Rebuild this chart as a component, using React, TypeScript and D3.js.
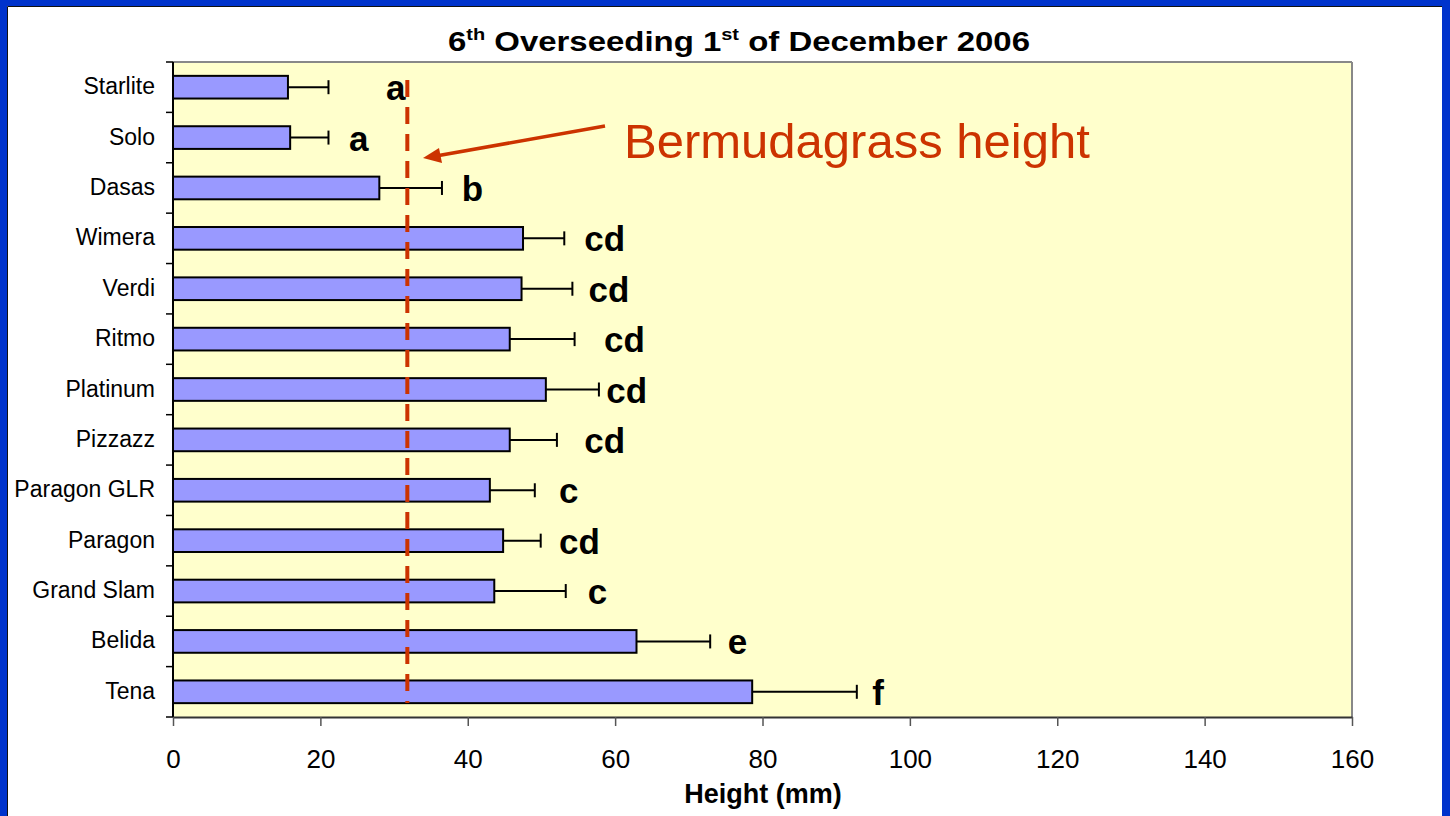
import { useEffect, useRef } from "react";
import * as d3 from "d3";

const categories = [
  "Starlite",
  "Solo",
  "Dasas",
  "Wimera",
  "Verdi",
  "Ritmo",
  "Platinum",
  "Pizzazz",
  "Paragon GLR",
  "Paragon",
  "Grand Slam",
  "Belida",
  "Tena",
];
const heights = [15.6, 15.9, 28.0, 47.5, 47.3, 45.7, 50.6, 45.7, 43.0, 44.8, 43.6, 62.9, 78.6];
const errors = [5.5, 5.2, 8.5, 5.6, 6.9, 8.8, 7.2, 6.4, 6.1, 5.1, 9.7, 10.0, 14.2];
const letters = ["a", "a", "b", "cd", "cd", "cd", "cd", "cd", "c", "cd", "c", "e", "f"];
// where each letter starts, in mm along the axis
const letterAt = [28.9, 23.9, 39.2, 55.8, 56.4, 58.5, 58.8, 55.8, 52.4, 52.4, 56.3, 75.3, 94.9];
const xTicks = [0, 20, 40, 60, 80, 100, 120, 140, 160];
const bermudaHeight = 31.8;

const FONT = "'Liberation Sans', Arial, Helvetica, sans-serif";
const RED = "#cc3300";

export default function App() {
  const width = 1450;
  const height = 816;
  const margin = { top: 62, right: 98, bottom: 99, left: 173 };
  const boundedWidth = width - margin.left - margin.right;
  const boundedHeight = height - margin.top - margin.bottom;

  const xScale = d3.scaleLinear().domain([0, 160]).range([0, boundedWidth]);
  const yScale = d3
    .scaleBand<string>()
    .domain(categories)
    .range([0, boundedHeight])
    .paddingInner(0.55)
    .paddingOuter(0.275);
  const step = yScale.step();

  const xAxisRef = useRef<SVGGElement>(null);

  useEffect(() => {
    const g = d3.select(xAxisRef.current);
    g.selectAll("*").remove();
    g.call(d3.axisBottom(xScale).tickValues(xTicks).tickSize(9).tickSizeOuter(0));
    g.select(".domain").attr("stroke", "#333").attr("stroke-width", 2);
    g.selectAll(".tick line").attr("stroke", "#555").attr("stroke-width", 1.5);
    g.selectAll(".tick text")
      .attr("y", 51)
      .attr("dy", 0)
      .attr("fill", "#000")
      .style("font-family", FONT)
      .style("font-size", "26px");
  }, [xScale]);

  const bandTicks = d3.range(categories.length + 1).map((i) => i * step);
  const dashX = xScale(bermudaHeight);

  return (
    <svg
      width={width}
      height={height}
      style={{ position: "absolute", left: 0, top: 0, display: "block" }}
    >
      <rect width={width} height={height} fill="#fff" />
      {/* slide frame */}
      <rect x={0} y={0} width={width} height={6} fill="#0033cc" />
      <rect x={0} y={0} width={7} height={height} fill="#0033cc" />
      <rect x={1442} y={0} width={8} height={height} fill="#0033cc" />
      <line x1={7.5} x2={1442} y1={6.5} y2={6.5} stroke="#111" strokeWidth={1} />
      <line x1={7.5} x2={7.5} y1={6.5} y2={height} stroke="#111" strokeWidth={1} />

      <text
        x={739}
        y={51}
        textAnchor="middle"
        fontFamily={FONT}
        fontWeight="bold"
        fontSize={28}
        textLength={582}
        lengthAdjust="spacingAndGlyphs"
      >
        6<tspan fontSize={17} dy={-11}>th</tspan>
        <tspan dy={11}> Overseeding 1</tspan>
        <tspan fontSize={17} dy={-11}>st</tspan>
        <tspan dy={11}> of December 2006</tspan>
      </text>

      <g transform={`translate(${margin.left},${margin.top})`}>
        <rect width={boundedWidth} height={boundedHeight} fill="#ffffcc" />
        <line x1={0} x2={boundedWidth} y1={0} y2={0} stroke="#888" strokeWidth={2} />
        <line
          x1={boundedWidth}
          x2={boundedWidth}
          y1={0}
          y2={boundedHeight}
          stroke="#888"
          strokeWidth={2}
        />

        {categories.map((c, i) => {
          const y = yScale(c) || 0;
          const bh = yScale.bandwidth();
          const end = xScale(heights[i]);
          const errEnd = xScale(heights[i] + errors[i]);
          const cy = y + bh / 2;
          return (
            <g key={c}>
              <rect
                x={0}
                y={y}
                width={end}
                height={bh}
                fill="#9999ff"
                stroke="#000"
                strokeWidth={2}
              />
              <line x1={end} x2={errEnd} y1={cy} y2={cy} stroke="#000" strokeWidth={2} />
              <line
                x1={errEnd}
                x2={errEnd}
                y1={cy - 7}
                y2={cy + 7}
                stroke="#000"
                strokeWidth={2}
              />
              <text
                x={-18}
                y={cy + 7}
                textAnchor="end"
                fontFamily={FONT}
                fontSize={23}
                fill="#000"
              >
                {c}
              </text>
              <text
                x={xScale(letterAt[i])}
                y={cy + 13}
                fontFamily={FONT}
                fontWeight="bold"
                fontSize={35}
                fill="#000"
              >
                {letters[i]}
              </text>
            </g>
          );
        })}

        {bandTicks.map((t) => (
          <line key={t} x1={-7} x2={0} y1={t} y2={t} stroke="#000" strokeWidth={1.5} />
        ))}
        <line x1={0} x2={0} y1={0} y2={boundedHeight} stroke="#000" strokeWidth={2} />

        <line
          x1={dashX}
          x2={dashX}
          y1={18}
          y2={boundedHeight - 14}
          stroke={RED}
          strokeWidth={4}
          strokeDasharray="17,10"
        />

        <g ref={xAxisRef} transform={`translate(0,${boundedHeight})`} />
      </g>

      {/* annotation */}
      <line x1={605} y1={126} x2={436} y2={156} stroke={RED} strokeWidth={3.5} />
      <path d="M423,158 L439,148 L442,163 Z" fill={RED} />
      <text x={624} y={158} fontFamily={FONT} fontSize={49} fill={RED}>
        Bermudagrass height
      </text>

      <text
        x={763}
        y={803}
        textAnchor="middle"
        fontFamily={FONT}
        fontWeight="bold"
        fontSize={27}
      >
        Height (mm)
      </text>
    </svg>
  );
}
